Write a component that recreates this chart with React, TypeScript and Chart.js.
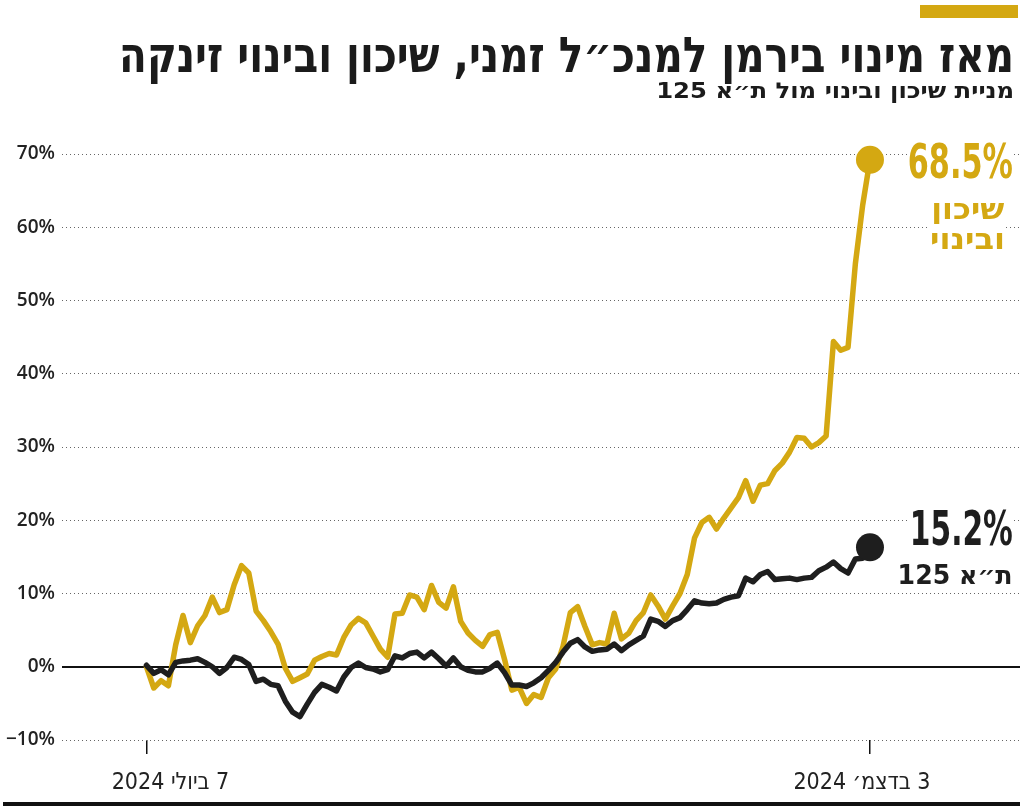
import React, { useEffect, useLayoutEffect, useRef } from "react";
import { Chart, registerables } from "chart.js";
Chart.register(...registerables);

// ---- data ----
const shikunValues = [
  0, -2.9, -1.9, -2.6, 3.0, 7.0, 3.3, 5.6, 7.0, 9.5,
  7.4, 7.8, 11.2, 13.8, 12.8, 7.6, 6.3, 4.8, 3.1, -0.2,
  -2.0, -1.5, -1.0, 0.9, 1.4, 1.8, 1.6, 4.0, 5.7, 6.6,
  6.0, 4.2, 2.4, 1.3, 7.2, 7.3, 9.8, 9.5, 7.8, 11.1,
  8.8, 8.0, 10.9, 6.2, 4.6, 3.6, 2.8, 4.4, 4.7, 1.0,
  -3.2, -2.8, -5.0, -3.8, -4.2, -1.5, -0.3, 2.8, 7.4, 8.2,
  5.5, 3.0, 3.3, 3.1, 7.3, 3.8, 4.6, 6.3, 7.4, 9.8,
  8.3, 6.5, 8.3, 10.0, 12.6, 17.6, 19.7, 20.4, 18.8, 20.3,
  21.7, 23.1, 25.4, 22.6, 24.8, 25.0, 26.8, 27.8, 29.3, 31.3,
  31.2, 30.0, 30.6, 31.5, 44.4, 43.2, 43.6, 55.0, 63.0, 69.2,
];
const ta125Values = [
  0.2, -0.9, -0.4, -1.1, 0.6, 0.8, 0.9, 1.1, 0.6, 0.0,
  -0.9, -0.1, 1.3, 1.0, 0.3, -2.0, -1.7, -2.4, -2.6, -4.7,
  -6.2, -6.8, -5.1, -3.5, -2.4, -2.8, -3.3, -1.4, -0.1, 0.5,
  -0.1, -0.3, -0.7, -0.4, 1.5, 1.2, 1.8, 2.0, 1.2, 2.0,
  1.1, 0.1, 1.2, 0.0, -0.5, -0.7, -0.7, -0.2, 0.5, -0.8,
  -2.5, -2.5, -2.7, -2.2, -1.5, -0.5, 0.6, 2.0, 3.2, 3.7,
  2.7, 2.1, 2.3, 2.4, 3.1, 2.2, 3.0, 3.6, 4.2, 6.5,
  6.2, 5.5, 6.3, 6.7, 7.8, 9.0, 8.7, 8.6, 8.7, 9.2,
  9.5, 9.7, 12.1, 11.6, 12.6, 13.0, 11.9, 12.0, 12.1, 11.9,
  12.1, 12.2, 13.1, 13.6, 14.3, 13.4, 12.8, 14.7, 14.8, 16.3,
];
const yTickValues = [-10, 0, 10, 20, 30, 40, 50, 60, 70];
const xTickIndices = [0, 99];
const xTickLabels = ["7 ביולי 2024", "3 בדצמ׳ 2024"];
const seriesNames = ["שיכון", "ובינוי"];
const indexName = "ת״א 125";
const endValueLabels = ["68.5%", "15.2%"];
const titleText = "מאז מינוי בירמן למנכ״ל זמני, שיכון ובינוי זינקה";
const subtitleText = "מניית שיכון ובינוי מול ת״א 125";

const GOLD = "#d4a812";
const BLACK = "#1e1e1e";
const COND = '"DejaVu Sans Condensed", "DejaVu Sans", sans-serif';

function Fit(props: {
  text: string; right: number; top: number; width: number; height: number;
  font: string; color: string; bg?: string;
}) {
  const ref = useRef<HTMLSpanElement>(null);
  const measure = () => {
    const el = ref.current;
    if (!el) return;
    el.style.transform = "none";
    const w = el.getBoundingClientRect().width;
    if (w > 0) el.style.transform = `scaleX(${props.width / w})`;
  };
  useLayoutEffect(() => {
    measure();
    (document as any).fonts?.ready?.then(measure);
  });
  return (
    <div
      style={{
        position: "absolute",
        left: props.right - props.width,
        top: props.top,
        width: props.width,
        height: props.height,
        background: props.bg || "transparent",
      }}
    >
      <span
        ref={ref}
        dir="rtl"
        style={{
          position: "absolute",
          right: 0,
          top: 0,
          display: "inline-block",
          whiteSpace: "nowrap",
          font: props.font,
          color: props.color,
          lineHeight: 1,
          transformOrigin: "right top",
        }}
      >
        {props.text}
      </span>
    </div>
  );
}

const xLabelPlugin = {
  id: "xLabels",
  afterDraw(chart: any) {
    const ctx = chart.ctx;
    const xs = chart.scales.x;
    const offsets = [24, -8];
    ctx.save();
    ctx.font = `23px ${COND}`;
    ctx.fillStyle = "#222";
    ctx.textAlign = "center";
    ctx.textBaseline = "alphabetic";
    (ctx as any).direction = "rtl";
    xTickIndices.forEach((v, i) => {
      const px = xs.getPixelForValue(v) + offsets[i];
      ctx.fillText(xTickLabels[i], px, 789);
    });
    ctx.restore();
  },
};

export default function App() {
  const canvasRef = useRef<HTMLCanvasElement>(null);

  useEffect(() => {
    const canvas = canvasRef.current;
    if (!canvas) return;
    const last = shikunValues.length - 1;
    const common = {
      borderWidth: 5.5,
      borderJoinStyle: "round",
      borderCapStyle: "round",
      tension: 0,
      pointRadius: (c: any) => (c.dataIndex === last ? 14 : 0),
      pointHoverRadius: 0,
      pointBorderWidth: 0,
      clip: false,
    };
    const chart = new Chart(canvas, {
      type: "line",
      data: {
        datasets: [
          {
            label: indexName,
            data: ta125Values.map((v, i) => ({ x: i, y: v })),
            borderColor: BLACK,
            backgroundColor: BLACK,
            ...common,
          } as any,
          {
            label: seriesNames.join(" "),
            data: shikunValues.map((v, i) => ({ x: i, y: v })),
            borderColor: GOLD,
            backgroundColor: GOLD,
            ...common,
          } as any,
        ],
      },
      options: {
        animation: false,
        responsive: false,
        maintainAspectRatio: false,
        devicePixelRatio: 1,
        layout: { autoPadding: false, padding: { top: 154, right: 4, bottom: 0, left: 0 } } as any,
        plugins: { legend: { display: false }, tooltip: { enabled: false }, title: { display: false } },
        events: [],
        scales: {
          x: {
            type: "linear",
            min: -11.56,
            max: 119.53,
            afterBuildTicks: (s: any) => {
              s.ticks = xTickIndices.map((v) => ({ value: v }));
            },
            afterFit: (s: any) => {
              s.height = 69;
            },
            grid: { drawOnChartArea: false, drawTicks: true, tickLength: 14, color: "#111", lineWidth: 1.5 },
            border: { display: false },
            ticks: { display: false },
          },
          y: {
            min: -10,
            max: 70,
            afterBuildTicks: (s: any) => {
              s.ticks = yTickValues.map((v) => ({ value: v }));
            },
            afterFit: (s: any) => {
              s.width = 62;
            },
            grid: {
              drawTicks: false,
              color: (c: any) => (c.tick && c.tick.value === 0 ? "#111" : "#666"),
              lineWidth: (c: any) => (c.tick && c.tick.value === 0 ? 2 : 1),
            },
            border: {
              display: false,
              dash: (c: any) => (c.tick && c.tick.value === 0 ? [] : [1, 3]),
            } as any,
            ticks: {
              padding: 7,
              color: "#222",
              font: { family: "Open Sans", size: 19, weight: "600" as any },
              callback: (v: any) => (v < 0 ? "\u2212" : "") + Math.abs(v) + "%",
            },
          },
        },
      },
      plugins: [xLabelPlugin],
    });
    return () => chart.destroy();
  }, []);

  return (
    <div
      style={{
        position: "absolute",
        left: 0,
        top: 0,
        width: 1024,
        height: 809,
        background: "#fff",
        overflow: "hidden",
      }}
    >
      <canvas
        ref={canvasRef}
        width={1024}
        height={809}
        style={{ position: "absolute", left: 0, top: 0, width: 1024, height: 809 }}
      />
      <div style={{ position: "absolute", left: 920, top: 5, width: 98, height: 13, background: GOLD }} />
      <Fit text={titleText} right={1014} top={31} width={895} height={52} font={`bold 49px ${COND}`} color="#1b1b1b" />
      <Fit text={subtitleText} right={1014} top={80} width={358} height={26} font={`bold 22px ${COND}`} color="#1b1b1b" />
      <Fit text={endValueLabels[0]} right={1013} top={137} width={105} height={46} font={`bold 48px ${COND}`} color={GOLD} bg="#fff" />
      <Fit text={seriesNames[0]} right={1004} top={194} width={73} height={30} font={`bold 30px ${COND}`} color={GOLD} bg="#fff" />
      <Fit text={seriesNames[1]} right={1005} top={224} width={75} height={32} font={`bold 30px ${COND}`} color={GOLD} bg="#fff" />
      <Fit text={endValueLabels[1]} right={1013} top={504} width={103} height={46} font={`bold 48px ${COND}`} color={BLACK} bg="#fff" />
      <Fit text={indexName} right={1013} top={562} width={115} height={28} font={`bold 26px ${COND}`} color={BLACK} bg="#fff" />
      <div style={{ position: "absolute", left: 3, top: 802, width: 1017, height: 4, background: "#111" }} />
    </div>
  );
}
